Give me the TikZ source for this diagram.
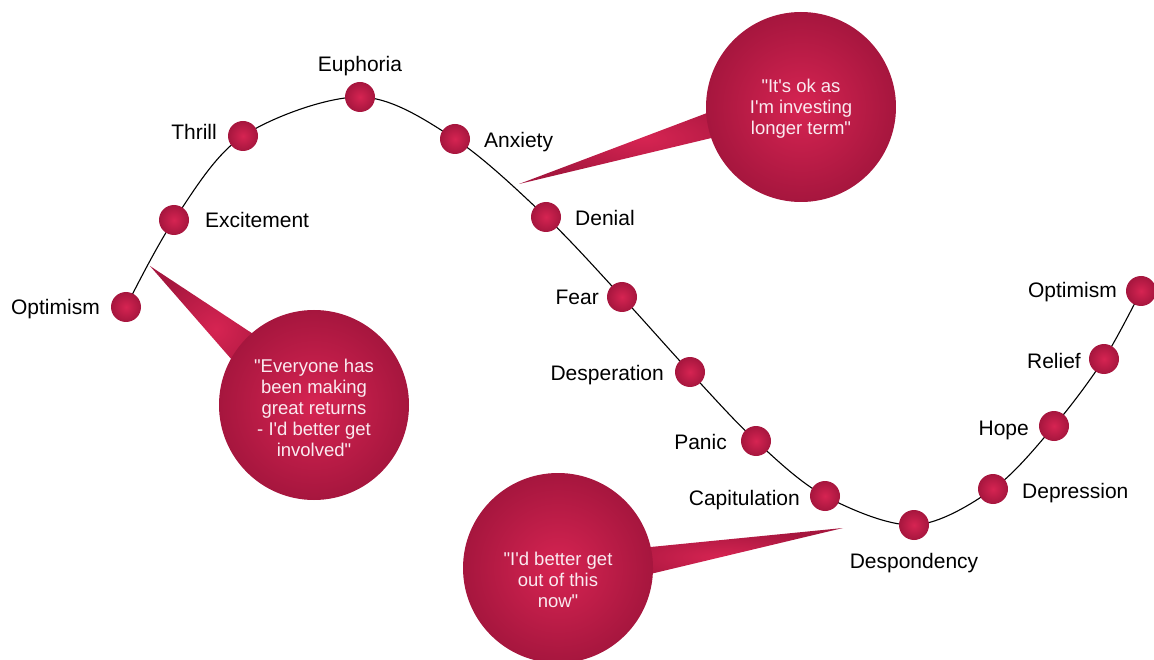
\documentclass[tikz,border=0pt]{standalone}
\usepackage{fontspec}
\setmainfont{Liberation Sans}[Ligatures=TeXOff]
\definecolor{ballin}{RGB}{214,36,82}
\definecolor{ballout}{RGB}{166,22,62}
\definecolor{bubtext}{RGB}{250,234,240}
\begin{document}
\begin{tikzpicture}[x=1pt,y=-1pt,
  dot/.style={circle,minimum size=30pt,inner sep=0pt,shading=radial,inner color=ballin,outer color=ballout},
  lbl/.style={font=\fontsize{21}{25}\selectfont,text=black,inner sep=0pt},
  bubble/.style={circle,minimum size=190pt,inner sep=0pt,shading=radial,inner color=ballin,outer color=ballout},
  bubtxt/.style={text=bubtext,align=center,inner sep=0pt,font=\fontsize{18.5}{21}\selectfont},
  tailshape/.style={shading=radial,inner color=ballin,outer color=ballout},
  curveline/.style={black,line width=1.1pt}]
\useasboundingbox (0,0) rectangle (1154,660);
% positions of the dots
\coordinate (p1) at (126,307);
\coordinate (p2) at (174,220);
\coordinate (p3) at (243,136);
\coordinate (p4) at (360,97);
\coordinate (p5) at (455,139);
\coordinate (p6) at (546,217);
\coordinate (p7) at (622,297);
\coordinate (p8) at (690,372);
\coordinate (p9) at (756,441);
\coordinate (p10) at (825,496);
\coordinate (p11) at (914,525);
\coordinate (p12) at (993,489);
\coordinate (p13) at (1054,426);
\coordinate (p14) at (1104,359);
\coordinate (p15) at (1141,291);
% curve
\draw[curveline] plot[smooth,tension=0.55] coordinates {(p1) (p2) (p3) (p4) (p5) (p6) (p7) (p8) (p9) (p10) (p11) (p12) (p13) (p14) (p15)};
% dots
\foreach \i in {1,...,15} {\node[dot] (d\i) at (p\i) {};}
% labels
\node[lbl,anchor=base east] (l1) at (100,315) {Optimism};
\node[lbl,anchor=base west] (l2) at (205,228) {Excitement};
\node[lbl,anchor=base east] (l3) at (217,140) {Thrill};
\node[lbl,anchor=base] (l4) at (360,72) {Euphoria};
\node[lbl,anchor=base west] (l5) at (484,148) {Anxiety};
\node[lbl,anchor=base west] (l6) at (575,226) {Denial};
\node[lbl,anchor=base east] (l7) at (599,305) {Fear};
\node[lbl,anchor=base east] (l8) at (664,380) {Desperation};
\node[lbl,anchor=base east] (l9) at (727,449) {Panic};
\node[lbl,anchor=base east] (l10) at (800,505) {Capitulation};
\node[lbl,anchor=base] (l11) at (914,568) {Despondency};
\node[lbl,anchor=base west] (l12) at (1022,498) {Depression};
\node[lbl,anchor=base east] (l13) at (1029,435) {Hope};
\node[lbl,anchor=base east] (l14) at (1081,368) {Relief};
\node[lbl,anchor=base east] (l15) at (1117,298) {Optimism};
% bubble tails
\coordinate (tipA) at (150,266);
\coordinate (tipB) at (519,184);
\coordinate (tipC) at (843,528);
\path[tailshape] (tipA) -- (282,353) -- (260,392) -- cycle;
\path[tailshape] (tipB) -- (760,93) -- (770,124) -- cycle;
\path[tailshape] (tipC) -- (600,552) -- (600,586) -- cycle;
% bubbles
\node[bubble] (bA) at (314,405) {};
\node[bubble] (bB) at (801,107) {};
\node[bubble] (bC) at (558,568) {};
\node[bubtxt] (tA) at (314,408) {"Everyone has\\been making\\great returns\\- I'd better get\\involved"};
\node[bubtxt] (tB) at (801,109) {"It's ok as\\I'm investing\\longer term"};
\node[bubtxt] (tC) at (558,580) {"I'd better get\\out of this\\now"};
\end{tikzpicture}
\end{document}
